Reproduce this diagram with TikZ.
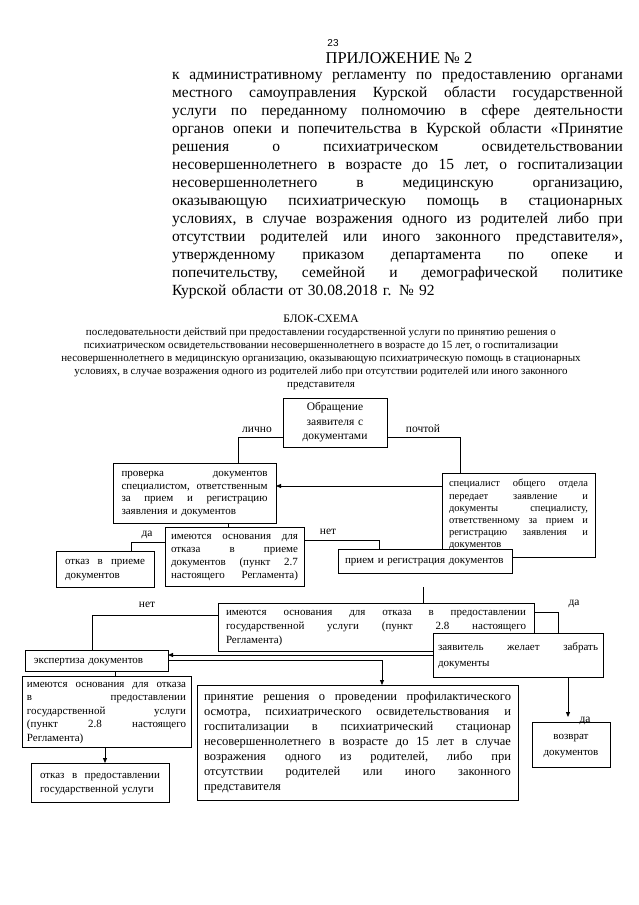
\documentclass[tikz,border=0pt]{standalone}
\usepackage{fontspec}
\setmainfont{Liberation Serif}
\newfontfamily\pagenumfont{Liberation Sans}
\usetikzlibrary{arrows.meta}
\newcommand\fs[2]{\fontsize{#1}{#2}\selectfont}
\makeatletter
\newcommand\jl[2]{\leavevmode\hbox to #1{\strut\jl@a#2 \@nil}}
\def\jl@a#1 #2\@nil{#1\ifx\relax#2\relax\else\hskip\fontdimen2\font plus 1fill\relax\jl@a#2\@nil\fi}
\makeatother
\begin{document}
\begin{tikzpicture}[x=1pt,y=-1pt,
  every node/.style={inner sep=0pt, outer sep=0pt},
  bx/.style={draw, line width=0.8pt, fill=white, anchor=north west, align=left, inner ysep=0pt},
  cbx/.style={draw, line width=0.8pt, fill=white, anchor=north west, align=center, inner ysep=0pt},
  lbl/.style={anchor=base, font=\fs{11.5}{13}},
  ln/.style={line width=0.8pt},
  arr/.style={line width=0.8pt, -{Triangle[length=5pt,width=4pt]}}]
\useasboundingbox (0,0) rectangle (639,905);
\fill[white] (0,0) rectangle (639,905);

% header
\node[anchor=base, font=\pagenumfont\fs{10}{12}] (pg) at (333,46) {23};
\node[anchor=base, font=\fs{16.5}{18}] (app) at (399,63) {ПРИЛОЖЕНИЕ № 2};
\node[anchor=north west, text width=451pt, align=left, font=\fs{15.5}{18}] (body) at (172,66.4) {%
\jl{451pt}{к административному регламенту по предоставлению органами}\\
\jl{451pt}{местного самоуправления Курской области государственной}\\
\jl{451pt}{услуги по переданному полномочию в сфере деятельности}\\
\jl{451pt}{органов опеки и попечительства в Курской области «Принятие}\\
\jl{451pt}{решения о психиатрическом освидетельствовании}\\
\jl{451pt}{несовершеннолетнего в возрасте до 15 лет, о госпитализации}\\
\jl{451pt}{несовершеннолетнего в медицинскую организацию,}\\
\jl{451pt}{оказывающую психиатрическую помощь в стационарных}\\
\jl{451pt}{условиях, в случае возражения одного из родителей либо при}\\
\jl{451pt}{отсутствии родителей или иного законного представителя»,}\\
\jl{451pt}{утвержденному приказом департамента по опеке и}\\
\jl{451pt}{попечительству, семейной и демографической политике}\\
\strut Курской области от 30.08.2018 г. № 92};

\node[anchor=base, font=\fs{11.5}{13}] (title) at (321,322) {БЛОК-СХЕМА};
\node[anchor=north, align=center, font=\fs{11}{13}] (sub) at (321,325.9) {%
\strut последовательности действий при предоставлении государственной услуги по принятию решения о\\
\strut психиатрическом освидетельствовании несовершеннолетнего в возрасте до 15 лет, о госпитализации\\
\strut несовершеннолетнего в медицинскую организацию, оказывающую психиатрическую помощь в стационарных\\
\strut условиях, в случае возражения одного из родителей либо при отсутствии родителей или иного законного\\
\strut представителя};

% boxes
\node[cbx, text width=96pt, minimum width=104pt, minimum height=49pt, inner xsep=4pt, font=\fs{11.5}{14.5}] (A) at (283,398)
  {\strut Обращение\\ \strut заявителя с\\ \strut документами};
\node[bx, text width=146pt, minimum width=163pt, minimum height=60pt, inner xsep=8.5pt, font=\fs{11}{12.7}] (B) at (113,463)
  {\jl{146pt}{проверка документов}\\ \jl{146pt}{специалистом, ответственным}\\ \jl{146pt}{за прием и регистрацию}\\ \strut заявления и документов};
\node[bx, text width=139pt, minimum width=153pt, minimum height=84pt, inner xsep=7pt, font=\fs{10.5}{12.2}] (C) at (442,473)
  {\jl{139pt}{специалист общего отдела}\\ \jl{139pt}{передает заявление и}\\ \jl{139pt}{документы специалисту,}\\ \jl{139pt}{ответственному за прием и}\\ \jl{139pt}{регистрацию заявления и}\\ \strut документов};
\node[bx, text width=127pt, minimum width=139pt, minimum height=59pt, inner xsep=6pt, font=\fs{11}{13}] (D) at (165,527)
  {\jl{127pt}{имеются основания для}\\ \jl{127pt}{отказа в приеме}\\ \jl{127pt}{документов (пункт 2.7}\\ \jl{127pt}{настоящего Регламента)}};
\node[bx, text width=80pt, minimum width=98pt, minimum height=36pt, inner xsep=9pt, font=\fs{11}{13.5}] (E) at (56,551)
  {\jl{80pt}{отказ в приеме}\\ \strut документов};
\node[bx, text width=160pt, minimum width=174pt, minimum height=24pt, inner xsep=7pt, font=\fs{11}{13}] (F) at (338,549)
  {\strut прием и регистрация документов};
\node[bx, text width=300pt, minimum width=316pt, minimum height=48pt, inner xsep=8pt, font=\fs{11}{14}] (G) at (218,603)
  {\jl{300pt}{имеются основания для отказа в предоставлении}\\ \jl{300pt}{государственной услуги (пункт 2.8 настоящего}\\ \strut Регламента)};
\node[bx, text width=160pt, minimum width=170pt, minimum height=44pt, inner xsep=5pt, font=\fs{11}{16}] (I) at (433,633)
  {\jl{160pt}{заявитель желает забрать}\\ \strut документы};
\node[bx, text width=125pt, minimum width=143pt, minimum height=21pt, inner xsep=9pt, font=\fs{11}{13}] (H) at (25,650)
  {\strut экспертиза документов};
\node[bx, text width=159pt, minimum width=169pt, minimum height=71pt, inner xsep=5pt, font=\fs{11}{13.5}] (K) at (22,676)
  {\jl{159pt}{имеются основания для отказа}\\ \jl{159pt}{в предоставлении}\\ \jl{159pt}{государственной услуги}\\ \jl{159pt}{(пункт 2.8 настоящего}\\ \strut Регламента)};
\node[bx, text width=307pt, minimum width=321pt, minimum height=115pt, inner xsep=7pt, font=\fs{12.5}{15}] (J) at (197,685)
  {\jl{307pt}{принятие решения о проведении профилактического}\\ \jl{307pt}{осмотра, психиатрического освидетельствования и}\\ \jl{307pt}{госпитализации в психиатрический стационар}\\ \jl{307pt}{несовершеннолетнего в возрасте до 15 лет в случае}\\ \jl{307pt}{возражения одного из родителей, либо при}\\ \jl{307pt}{отсутствии родителей или иного законного}\\ \strut представителя};
\node[bx, text width=120pt, minimum width=138pt, minimum height=39pt, inner xsep=9pt, font=\fs{11}{14}] (L) at (31,763)
  {\jl{120pt}{отказ в предоставлении}\\ \strut государственной услуги};
\node[cbx, text width=70pt, minimum width=78pt, minimum height=45pt, inner xsep=4pt, font=\fs{11}{16}] (M) at (532,722)
  {\strut возврат\\ \strut документов};

% connectors
\coordinate (c1) at (238,437);
\draw[ln] (c1 -| A.west) -- (c1) -- (c1 |- B.north);
\coordinate (c2) at (460,437);
\draw[ln] (c2 -| A.east) -- (c2) -- (c2 |- C.north);
\coordinate (c3) at (0,486);
\draw[arr] (c3 -| C.west) -- (c3 -| B.east);
\coordinate (c4) at (228,0);
\draw[ln] (c4 |- B.south) -- (c4 |- D.north);
\coordinate (c5) at (131,542);
\draw[ln] (c5 -| D.west) -- (c5) -- (c5 |- E.north);
\coordinate (c6) at (379,540);
\draw[ln] (c6 -| D.east) -- (c6) -- (c6 |- F.north);
\coordinate (c7) at (423,587);
\draw[ln] (c7) -- (c7 |- G.north);
\coordinate (c8) at (92,615);
\draw[ln] (c8 -| G.west) -- (c8) -- (c8 |- H.north);
\coordinate (c9) at (558,612);
\draw[ln] (c9 -| G.east) -- (c9) -- (c9 |- I.north);
\coordinate (c10) at (0,655);
\draw[arr] (c10 -| I.west) -- (c10 -| H.east);
\coordinate (c11) at (382,660);
\draw[arr] (c11 -| H.east) -- (c11) -- (c11 |- J.north);
\coordinate (c12) at (115,0);
\draw[ln] (c12 |- H.south) -- (c12 |- K.north);
\coordinate (c13) at (105,0);
\draw[arr] (c13 |- K.south) -- (c13 |- L.north);
\coordinate (c14) at (568,0);
\draw[arr, shorten >=5pt] (c14 |- I.south) -- (c14 |- M.north);

% labels
\node[lbl] (t1) at (257,432) {лично};
\node[lbl] (t2) at (423,432) {почтой};
\node[lbl] (t3) at (147,536) {да};
\node[lbl] (t4) at (328,534) {нет};
\node[lbl] (t5) at (147,607) {нет};
\node[lbl] (t6) at (574,605) {да};
\node[lbl] (t7) at (585,722) {да};
\end{tikzpicture}
\end{document}
